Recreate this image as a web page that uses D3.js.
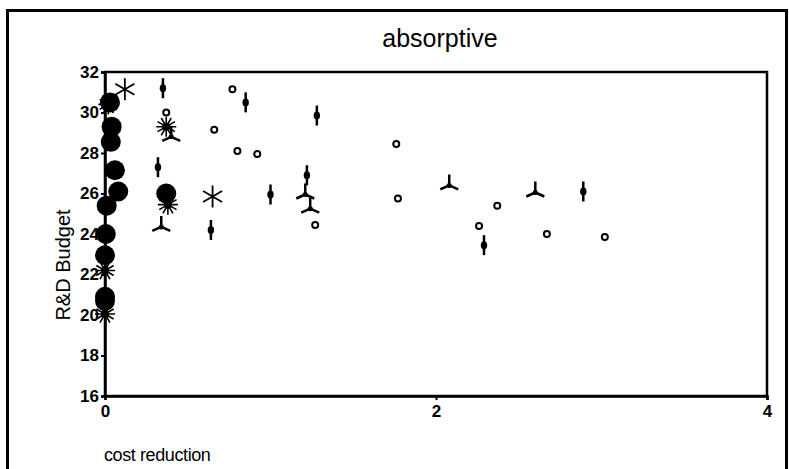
<!DOCTYPE html>
<html>
<head>
<meta charset="utf-8">
<script src="https://cdn.jsdelivr.net/npm/d3@7"></script>
<style>
  body { margin: 0; background: #fff; }
  text { font-family: "Liberation Sans", Arial, sans-serif; fill: #000; }
  .tick text { font-family: "Liberation Sans Narrow", "Liberation Sans", Arial, sans-serif; font-weight: bold; font-size: 17px; }
</style>
</head>
<body>
<div id="chart"></div>
<script>
// axis ticks
var xTicks = [0, 2, 4];
var yTicks = [16, 18, 20, 22, 24, 26, 28, 30, 32];

// big filled dots
var blobPts = [[0.03, 30.5], [0.04, 29.3], [0.035, 28.55], [0.06, 27.15], [0.08, 26.1],
  [0.01, 25.4], [0.005, 24.0], [0.0, 22.95], [0.0, 20.9], [0.0, 20.7], [0.37, 26.0]];
// many-ray asterisks
var burstPts = [[0.37, 29.3], [0.38, 25.45], [0.0, 22.2], [0.0, 20.05], [0.02, 30.4]];
// thin six-point stars
var starPts = [[0.12, 31.15], [0.65, 25.85]];
// vertical bars with dot
var barPts = [[0.35, 31.2], [0.85, 30.5], [1.28, 29.85], [0.32, 27.3], [0.64, 24.2],
  [1.0, 25.95], [1.22, 26.9], [2.89, 26.1], [2.29, 23.45]];
// small open circles
var ringPts = [[0.77, 31.15], [0.37, 30.0], [0.66, 29.15], [0.8, 28.1], [0.92, 27.95],
  [1.76, 28.45], [1.77, 25.75], [1.27, 24.45], [2.37, 25.4], [2.26, 24.4], [2.67, 24.0], [3.02, 23.85]];
// three-armed marks
var triPts = [[0.4, 28.8], [0.34, 24.35], [1.21, 25.95], [1.24, 25.25], [2.08, 26.4], [2.6, 26.05]];

var W = 789, H = 469;
var margin = { top: 72, right: 22, bottom: 73, left: 105 };
var width = W - margin.left - margin.right,
    height = H - margin.top - margin.bottom;

var svg = d3.select("#chart").append("svg").attr("width", W).attr("height", H);

// outer frame
svg.append("rect").attr("x", 7.5).attr("y", 10.5).attr("width", 779).attr("height", 470)
  .attr("fill", "none").attr("stroke", "#000").attr("stroke-width", 3);

var x = d3.scaleLinear().domain([0, 4]).range([0, width]);
var y = d3.scaleLinear().domain([16, 32]).range([height, 0]);

var g = svg.append("g").attr("transform", "translate(" + margin.left + "," + margin.top + ")");

// plot box
g.append("rect").attr("width", width).attr("height", height)
  .attr("fill", "none").attr("stroke", "#000").attr("stroke-width", 2.5);

g.append("g").attr("transform", "translate(0," + height + ")")
  .call(d3.axisBottom(x).tickValues(xTicks).tickSize(4).tickPadding(5).tickFormat(d3.format("d")))
  .call(function (a) { a.select(".domain").attr("stroke-width", 2.5); a.selectAll("line").attr("stroke-width", 2); });

g.append("g")
  .call(d3.axisLeft(y).tickValues(yTicks).tickSize(4).tickPadding(2).tickFormat(d3.format("d")))
  .call(function (a) { a.select(".domain").attr("stroke-width", 2.5); a.selectAll("line").attr("stroke-width", 2); });

// titles
svg.append("text").attr("x", 440).attr("y", 47).attr("text-anchor", "middle")
  .style("font-size", "25px").text("absorptive");
svg.append("text").attr("transform", "translate(70,265) rotate(-90)").attr("text-anchor", "middle")
  .style("font-size", "20px").text("R&D Budget");
svg.append("text").attr("x", 104).attr("y", 461)
  .style("font-size", "18px").style("letter-spacing", "-0.4px").text("cost reduction");

function pos(d) { return "translate(" + x(d[0]) + "," + y(d[1]) + ")"; }

// big dots
g.selectAll(".blob").data(blobPts).enter().append("circle").attr("class", "blob")
  .attr("cx", function (d) { return x(d[0]); }).attr("cy", function (d) { return y(d[1]); })
  .attr("r", 10).attr("fill", "#000");

// asterisks with many rays
var burst = "";
for (var i = 0; i < 12; i++) {
  var a = i * Math.PI / 6;
  burst += "M0,0L" + (10 * Math.cos(a)).toFixed(2) + "," + (10 * Math.sin(a)).toFixed(2);
}
var b = g.selectAll(".burst").data(burstPts).enter().append("g").attr("class", "burst").attr("transform", pos);
b.append("path").attr("d", burst).attr("stroke", "#000").attr("stroke-width", 1.6);
b.append("circle").attr("r", 4).attr("fill", "#000");

// six-point stars
var star = "";
for (var j = 0; j < 6; j++) {
  var t = -Math.PI / 2 + j * Math.PI / 3;
  star += "M0,0L" + (11 * Math.cos(t)).toFixed(2) + "," + (11 * Math.sin(t)).toFixed(2);
}
g.selectAll(".star").data(starPts).enter().append("path").attr("class", "star")
  .attr("transform", pos).attr("d", star).attr("stroke", "#000").attr("stroke-width", 1.8);

// vertical bars
var bar = g.selectAll(".bar").data(barPts).enter().append("g").attr("class", "bar").attr("transform", pos);
bar.append("path").attr("d", "M0,-10V10").attr("stroke", "#000").attr("stroke-width", 2.5);
bar.append("ellipse").attr("rx", 3.2).attr("ry", 4).attr("fill", "#000");

// open circles
g.selectAll(".ring").data(ringPts).enter().append("circle").attr("class", "ring")
  .attr("cx", function (d) { return x(d[0]); }).attr("cy", function (d) { return y(d[1]); })
  .attr("r", 3).attr("fill", "#fff").attr("stroke", "#000").attr("stroke-width", 2);

// three-armed marks
var tri = g.selectAll(".tri").data(triPts).enter().append("g").attr("class", "tri").attr("transform", pos);
tri.append("path").attr("d", "M0,0V-11M0,0L-9,4M0,0L9,4").attr("stroke", "#000")
  .attr("stroke-width", 2.5).attr("fill", "none");
tri.append("circle").attr("r", 2.5).attr("fill", "#000");
</script>
</body>
</html>
